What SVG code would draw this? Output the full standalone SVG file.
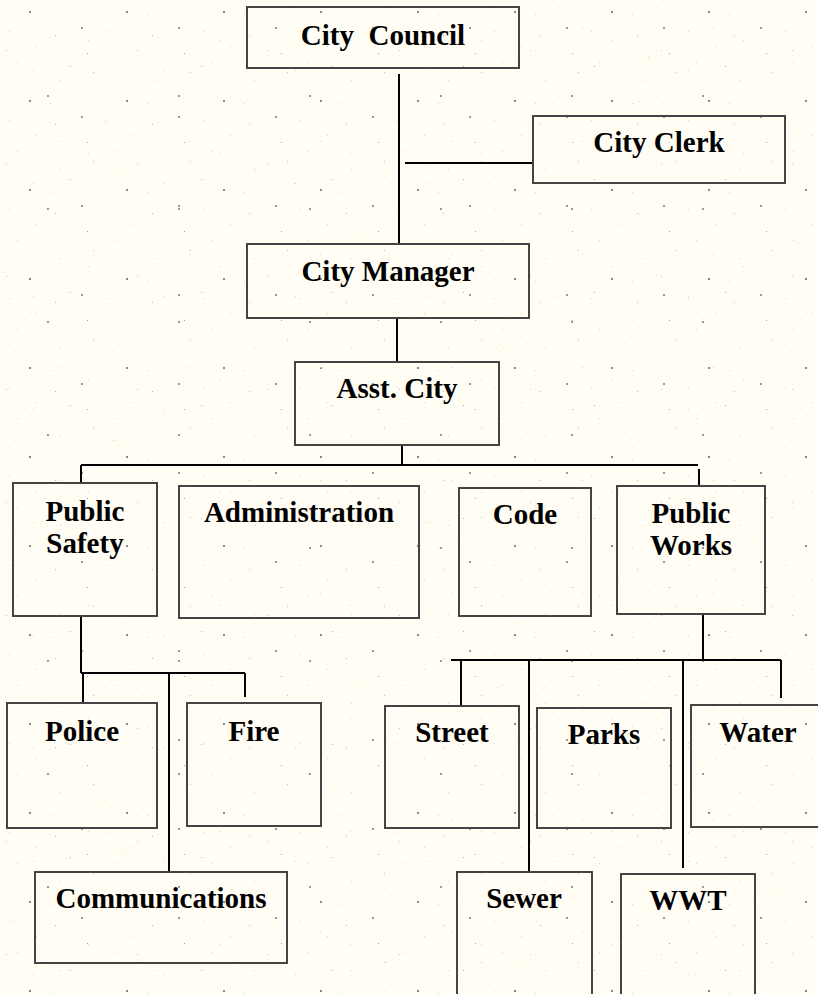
<svg xmlns="http://www.w3.org/2000/svg" width="818" height="994" viewBox="0 0 818 994">
<defs>
<style>
.box{fill:none;stroke:#444;stroke-width:2}
.lbl{font-family:"Liberation Serif","Times New Roman",serif;font-weight:bold;font-size:29px;fill:#000;text-anchor:middle}
.con{stroke:#000;stroke-width:2;fill:none}
</style>
<pattern id="speckA" width="97" height="89" patternUnits="userSpaceOnUse">
<rect x="3" y="5" width="1" height="1" fill="#f3e98a"/>
<rect x="17" y="62" width="1" height="1" fill="#f2c4c4"/>
<rect x="29" y="11" width="2" height="2" fill="#8a8a8a"/>
<rect x="74" y="7" width="1" height="1" fill="#f3e98a"/>
<rect x="55" y="35" width="1" height="1" fill="#b8b8b8"/>
<rect x="9" y="31" width="1" height="1" fill="#f2c4c4"/>
<rect x="42" y="76" width="1" height="1" fill="#f3e98a"/>
<rect x="87" y="53" width="1" height="1" fill="#a0a0a0"/>
<rect x="60" y="80" width="1" height="1" fill="#f2c4c4"/>
<rect x="81" y="27" width="2" height="2" fill="#999"/>
<rect x="15" y="84" width="1" height="1" fill="#f3e98a"/>
<rect x="36" y="46" width="1" height="1" fill="#f2c4c4"/>
<rect x="66" y="57" width="1" height="1" fill="#f3e98a"/>
<rect x="93" y="72" width="1" height="1" fill="#c0c0c0"/>
<rect x="24" y="52" width="1" height="1" fill="#f3e98a"/>
<rect x="50" y="14" width="1" height="1" fill="#f2c4c4"/>
</pattern>
<pattern id="speckB" width="131" height="113" patternUnits="userSpaceOnUse">
<rect x="12" y="17" width="1" height="1" fill="#f3e98a"/>
<rect x="47" y="95" width="2" height="2" fill="#9a9a9a"/>
<rect x="88" y="40" width="1" height="1" fill="#f2c4c4"/>
<rect x="115" y="101" width="1" height="1" fill="#f3e98a"/>
<rect x="70" y="66" width="1" height="1" fill="#b0b0b0"/>
<rect x="104" y="9" width="1" height="1" fill="#f3e98a"/>
<rect x="33" y="70" width="1" height="1" fill="#f2c4c4"/>
<rect x="6" y="50" width="1" height="1" fill="#c4c4c4"/>
<rect x="124" y="58" width="1" height="1" fill="#f3e98a"/>
<rect x="58" y="28" width="1" height="1" fill="#f2c4c4"/>
</pattern>
</defs>
<rect width="818" height="994" fill="#fffdf4"/>
<rect width="818" height="994" fill="url(#speckA)"/>
<rect width="818" height="994" fill="url(#speckB)"/>
<g id="connectors" class="con">
<line x1="399" y1="74" x2="399" y2="244"/>
<line x1="405" y1="163" x2="533" y2="163"/>
<line x1="397" y1="318" x2="397" y2="362"/>
<line x1="402" y1="445" x2="402" y2="465"/>
<line x1="81" y1="465" x2="698" y2="465"/>
<line x1="81" y1="465" x2="81" y2="483"/>
<line x1="699" y1="469" x2="699" y2="486"/>
<line x1="81" y1="616" x2="81" y2="673"/>
<line x1="81" y1="673" x2="245" y2="673"/>
<line x1="83" y1="673" x2="83" y2="703"/>
<line x1="245" y1="673" x2="245" y2="697"/>
<line x1="169" y1="673" x2="169" y2="872"/>
<line x1="703" y1="614" x2="703" y2="660"/>
<line x1="451" y1="660" x2="781" y2="660"/>
<line x1="461" y1="660" x2="461" y2="706"/>
<line x1="529" y1="660" x2="529" y2="872"/>
<line x1="683" y1="660" x2="683" y2="868"/>
<line x1="781" y1="660" x2="781" y2="698"/>
</g>
<g id="council"><rect class="box" x="247" y="7" width="272" height="61"/><text class="lbl" x="383" y="45" xml:space="preserve" style="white-space:pre">City  Council</text></g>
<g id="clerk"><rect class="box" x="533" y="116" width="252" height="67"/><text class="lbl" x="659" y="152">City Clerk</text></g>
<g id="manager"><rect class="box" x="247" y="244" width="282" height="74"/><text class="lbl" x="388" y="281">City Manager</text></g>
<g id="asst"><rect class="box" x="295" y="362" width="204" height="83"/><text class="lbl" x="397" y="398">Asst. City</text></g>
<g id="safety"><rect class="box" x="13" y="483" width="144" height="133"/><text class="lbl" x="85" y="521">Public</text><text class="lbl" x="85" y="553">Safety</text></g>
<g id="admin"><rect class="box" x="179" y="486" width="240" height="132"/><text class="lbl" x="299" y="522">Administration</text></g>
<g id="code"><rect class="box" x="459" y="488" width="132" height="128"/><text class="lbl" x="525" y="524">Code</text></g>
<g id="works"><rect class="box" x="617" y="486" width="148" height="128"/><text class="lbl" x="691" y="523">Public</text><text class="lbl" x="691" y="555">Works</text></g>
<g id="police"><rect class="box" x="7" y="703" width="150" height="125"/><text class="lbl" x="82" y="741">Police</text></g>
<g id="fire"><rect class="box" x="187" y="703" width="134" height="123"/><text class="lbl" x="254" y="741">Fire</text></g>
<g id="comms"><rect class="box" x="35" y="872" width="252" height="91"/><text class="lbl" x="161" y="908">Communications</text></g>
<g id="street"><rect class="box" x="385" y="706" width="134" height="122"/><text class="lbl" x="452" y="742">Street</text></g>
<g id="parks"><rect class="box" x="537" y="708" width="134" height="120"/><text class="lbl" x="604" y="744">Parks</text></g>
<g id="water"><rect class="box" x="691" y="705" width="134" height="122"/><text class="lbl" x="758" y="742">Water</text></g>
<g id="sewer"><rect class="box" x="457" y="872" width="135" height="130"/><text class="lbl" x="524" y="908">Sewer</text></g>
<g id="wwt"><rect class="box" x="621" y="874" width="134" height="130"/><text class="lbl" x="688" y="910">WWT</text></g>
</svg>
